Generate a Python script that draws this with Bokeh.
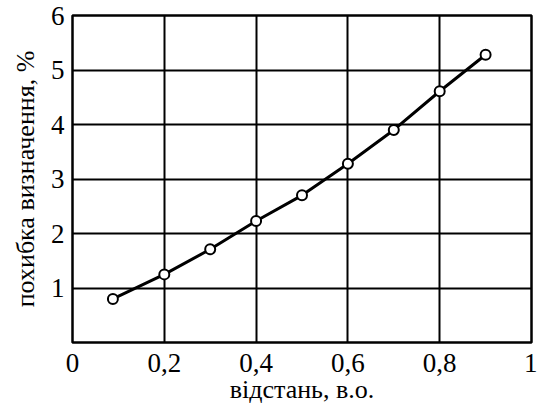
from bokeh.plotting import figure
from bokeh.models import FixedTicker, Range1d, LinearAxis
from bokeh.embed import file_html
from bokeh.resources import INLINE

x_vals = [0.088, 0.2, 0.3, 0.4, 0.5, 0.6, 0.7, 0.8, 0.9]
y_vals = [0.80, 1.25, 1.71, 2.23, 2.70, 3.28, 3.90, 4.61, 5.28]
x_ticks = [0, 0.2, 0.4, 0.6, 0.8, 1]
x_labels = ["0", "0,2", "0,4", "0,6", "0,8", "1"]
y_ticks = [1, 2, 3, 4, 5, 6]
y_labels = ["1", "2", "3", "4", "5", "6"]
x_title = "відстань, в.о."
y_title = "похибка визначення, %"

FONT = "'Liberation Serif', 'Times New Roman', serif"

p = figure(width=537, height=414, output_backend="svg", toolbar_location=None,
           x_range=Range1d(0, 1), y_range=Range1d(0, 6),
           x_axis_location=None, y_axis_location=None,
           min_border_left=72, min_border_right=6, min_border_top=15, min_border_bottom=72)
p.background_fill_color = "white"
p.border_fill_color = "white"
p.outline_line_color = "black"
p.outline_line_width = 2.5

def make_axis(ticks, labels, title, standoff, title_standoff):
    ax = LinearAxis(
        ticker=FixedTicker(ticks=ticks),
        major_label_overrides={t: l for t, l in zip(ticks, labels)},
        axis_label=title,
        axis_line_color=None,
        major_tick_line_color=None,
        minor_tick_line_color=None,
        major_tick_out=0, major_tick_in=0,
        major_label_text_font=FONT,
        major_label_text_font_size="27px",
        major_label_text_color="black",
        major_label_standoff=standoff,
        axis_label_text_font=FONT,
        axis_label_text_font_size="26px",
        axis_label_text_font_style="normal",
        axis_label_text_color="black",
        axis_label_standoff=title_standoff,
    )
    return ax

xaxis = make_axis(x_ticks, x_labels, x_title, 11, 0)
yaxis = make_axis(y_ticks, y_labels, y_title, 8, 8)
p.add_layout(xaxis, "below")
p.add_layout(yaxis, "left")

p.xgrid.ticker = FixedTicker(ticks=x_ticks)
p.ygrid.ticker = FixedTicker(ticks=y_ticks)
for g in (p.xgrid, p.ygrid):
    g.grid_line_color = "black"
    g.grid_line_width = 2
    g.grid_line_alpha = 1

p.line(x_vals, y_vals, line_color="black", line_width=3)
p.scatter(x_vals, y_vals, size=10, fill_color="white", line_color="black", line_width=2)

open("out.html", "w").write(file_html(p, INLINE))
